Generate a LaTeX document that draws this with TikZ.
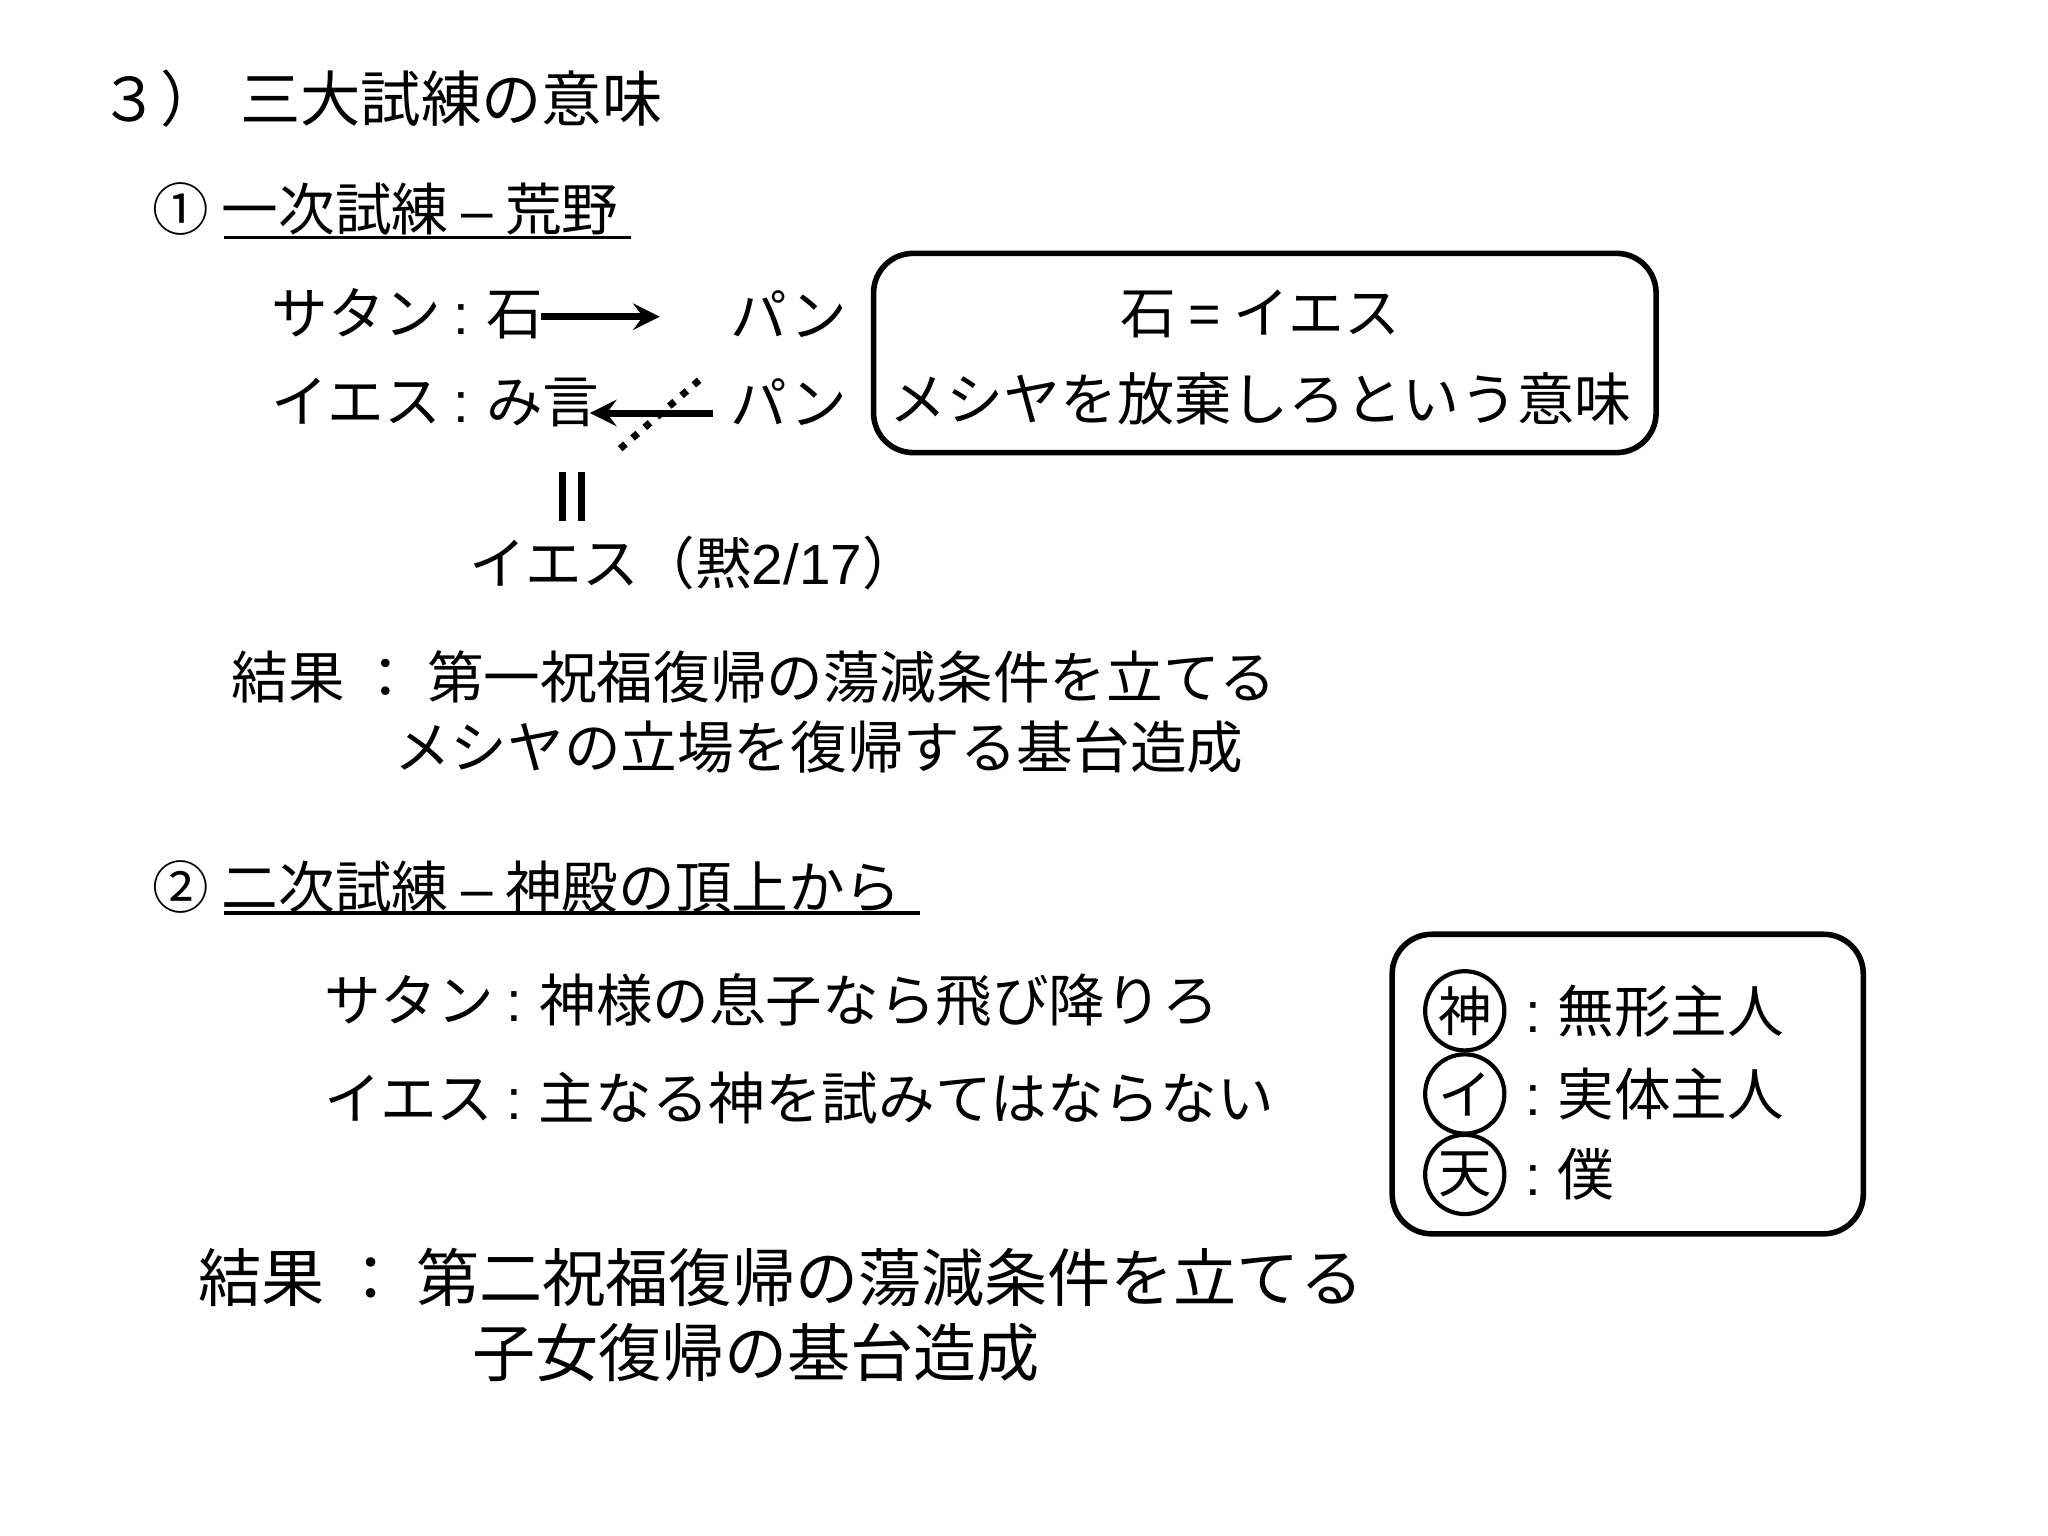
\documentclass[tikz,border=0pt]{standalone}
\usepackage{fontspec}
\setmainfont{Liberation Sans}
\newfontfamily\jp{Noto Sans CJK JP}
\newcommand{\fs}[1]{\fontsize{#1}{#1}\selectfont}
\begin{document}
\begin{tikzpicture}[x=0.01cm,y=-0.01cm,
  t/.style={anchor=west,inner sep=0pt,font=\jp\fs{12.2pt}},
  tb/.style={anchor=west,inner sep=0pt,font=\jp\fs{13pt}},
  rbox/.style={draw,line width=1.2pt,rounded corners=0.3cm},
  circ/.style={draw,circle,line width=0.9pt,minimum size=0.6cm,inner sep=0pt,font=\jp\fs{11.5pt}}]
\useasboundingbox (0,0) rectangle (1552,1164);
\node[tb] (title) at (75,75) {３）\hspace{0.15cm}三大試練の意味};
\node[t] (h1) at (115,158) {① 一次試練 {\fontspec{Liberation Sans}–} 荒野};
\draw[line width=0.8pt] (170,180) -- (478,180);
\node[t] (s1) at (205,238) {サタン {\fontspec{Liberation Sans}:} 石};
\node[t] (p1) at (553,238) {パン};
\coordinate (a1) at (410,240); \coordinate (a2) at (500,240);
\draw[->,line width=1.5pt,>=stealth] (a1) -- (a2);
\node[t] (s2) at (205,305) {イエス {\fontspec{Liberation Sans}:} み言};
\node[t] (p2) at (553,305) {パン};
\coordinate (b1) at (540,313); \coordinate (b2) at (447,313);
\draw[->,line width=1.5pt,>=stealth] (b1) -- (b2);
\coordinate (d1) at (470,340); \coordinate (d2) at (530,288);
\draw[dotted,line width=1.5pt] (d1) -- (d2);
\draw[line width=1.5pt] (426,358) -- (426,395) (441,358) -- (441,395);
\node[t] (ie) at (355,427) {イエス（黙{\fontspec{Liberation Sans}2/17}）};
\draw[rbox] (662,192) rectangle (1255,343);
\node[inner sep=0pt,font=\jp\fs{12pt}] (m1) at (955,238) {石 {\fontspec{Liberation Sans}=} イエス};
\node[inner sep=0pt,font=\jp\fs{12.3pt}] (m2) at (955,302) {メシヤを放棄しろという意味};
\node[t] (r1) at (175,513) {結果 ： 第一祝福復帰の蕩減条件を立てる};
\node[t] (r2) at (298,566) {メシヤの立場を復帰する基台造成};
\node[t] (h2) at (115,672) {② 二次試練 {\fontspec{Liberation Sans}–} 神殿の頂上から};
\draw[line width=0.8pt] (170,692) -- (697,692);
\node[t] (s3) at (245,758) {サタン {\fontspec{Liberation Sans}:} 神様の息子なら飛び降りろ};
\node[t] (s4) at (245,832) {イエス {\fontspec{Liberation Sans}:} 主なる神を試みてはならない};
\draw[rbox] (1055,708) rectangle (1412,935);
\node[circ] (c1) at (1110,766) {神};
\node[circ] (c2) at (1110,829) {イ};
\node[circ] (c3) at (1110,890) {天};
\node[t] (k1) at (1155,766) {{\fontspec{Liberation Sans}:} 無形主人};
\node[t] (k2) at (1155,829) {{\fontspec{Liberation Sans}:} 実体主人};
\node[t] (k3) at (1155,890) {{\fontspec{Liberation Sans}:} 僕};
\node[t,font=\jp\fs{13.6pt}] (r3) at (150,968) {結果 ： 第二祝福復帰の蕩減条件を立てる};
\node[t,font=\jp\fs{13.6pt}] (r4) at (357,1025) {子女復帰の基台造成};
\end{tikzpicture}
\end{document}
